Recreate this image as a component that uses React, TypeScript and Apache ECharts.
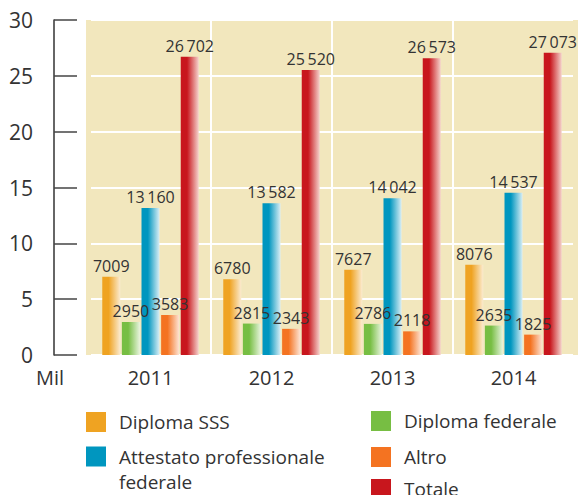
import React, { useEffect, useRef } from "react";
import * as echarts from "echarts";

const years = ["2011", "2012", "2013", "2014"];
const diplomaSSS = [7009, 6780, 7627, 8076];
const diplomaFederale = [2950, 2815, 2786, 2635];
const attestato = [13160, 13582, 14042, 14537];
const altro = [3583, 2343, 2118, 1825];
const totale = [26702, 25520, 26573, 27073];
const yTicks = [0, 5, 10, 15, 20, 25, 30];

const FONT = "'Open Sans', 'Noto Sans', sans-serif";
const TXT = "#333333";
const BEIGE = "#F2E7BD";

function fmt(v: number): string {
  const s = String(v);
  if (s.length > 4) return s.slice(0, s.length - 3) + "\u2009" + s.slice(s.length - 3);
  return s;
}

function grad(c: string, light: string) {
  return new echarts.graphic.LinearGradient(0, 0, 1, 0, [
    { offset: 0, color: c },
    { offset: 0.35, color: c },
    { offset: 1, color: light },
  ]);
}

const seriesDefs = [
  { name: "Diploma SSS", data: diplomaSSS, color: "#EFA322", light: "#FBEBD0" },
  { name: "Diploma federale", data: diplomaFederale, color: "#77BE43", light: "#E8F4DE" },
  { name: "Attestato professionale federale", data: attestato, color: "#0096BF", light: "#D9EEF5" },
  { name: "Altro", data: altro, color: "#F47321", light: "#FDE3D3" },
  { name: "Totale", data: totale, color: "#C8161D", light: "#F5D3CC" },
];

function legendFor(name: string, color: string, left: number, top: number, multi = false) {
  return {
    left,
    top,
    padding: 0,
    orient: "vertical",
    icon: "rect",
    itemWidth: 20,
    itemHeight: 20,
    selectedMode: false,
    data: [{ name, itemStyle: { color } }],
    formatter: multi ? () => "\nAttestato professionale\nfederale" : undefined,
    textStyle: {
      fontSize: 19,
      color: TXT,
      fontFamily: FONT,
      lineHeight: multi ? 25 : 20,
      padding: [0, 0, 0, 8],
    },
  };
}

export default function App() {
  const ref = useRef<HTMLDivElement>(null);
  useEffect(() => {
    if (!ref.current) return;
    document.body.style.margin = "0";
    const chart = echarts.init(ref.current, null, { renderer: "svg" });
    chart.setOption({
      animation: false,
      textStyle: { fontFamily: FONT },
      grid: { left: 90, right: 4, top: 20, bottom: 140, containLabel: false },
      graphic: [
        {
          type: "rect",
          z: -10,
          silent: true,
          shape: { x: 86, y: 20, width: 492, height: 335 },
          style: { fill: BEIGE },
        },
        {
          type: "text",
          left: 36,
          top: 367,
          style: { text: "Mil", fontSize: 20, fill: TXT, fontFamily: FONT },
        },
      ],
      legend: [
        legendFor("Diploma SSS", "#EFA322", 86, 412),
        legendFor("Attestato professionale federale", "#0096BF", 86, 419, true),
        legendFor("Diploma federale", "#77BE43", 371, 411),
        legendFor("Altro", "#F47321", 371, 447),
        legendFor("Totale", "#C8161D", 371, 479),
      ],
      xAxis: {
        type: "category",
        data: years,
        axisLine: { show: false },
        axisTick: { show: false },
        axisLabel: { fontSize: 20, color: TXT, fontFamily: FONT, margin: 12 },
        splitLine: {
          show: true,
          lineStyle: { color: [BEIGE, "#FFFFFF", "#FFFFFF", "#FFFFFF", BEIGE], width: 2 },
        },
      },
      yAxis: {
        type: "value",
        min: yTicks[0],
        max: yTicks[yTicks.length - 1],
        interval: 5,
        offset: 36,
        axisLine: { show: true, lineStyle: { color: "#333333", width: 1.5 } },
        axisTick: { show: true, inside: true, length: 23, lineStyle: { color: "#444444", width: 1.5 } },
        axisLabel: { fontSize: 21, color: TXT, fontFamily: FONT, margin: 21 },
        splitLine: { show: true, lineStyle: { color: "#FFFFFF", width: 2 } },
      },
      series: seriesDefs.map((s) => ({
        name: s.name,
        type: "bar",
        barWidth: 18,
        barGap: "9%",
        data: s.data.map((v) => v / 1000),
        itemStyle: { color: grad(s.color, s.light) },
        label: {
          show: true,
          position: "top",
          distance: 3,
          fontSize: 16,
          color: TXT,
          fontFamily: FONT,
          formatter: (p: any) => fmt(s.data[p.dataIndex]),
        },
      })),
    });
    return () => chart.dispose();
  }, []);
  return <div ref={ref} style={{ width: 578, height: 495 }} />;
}
